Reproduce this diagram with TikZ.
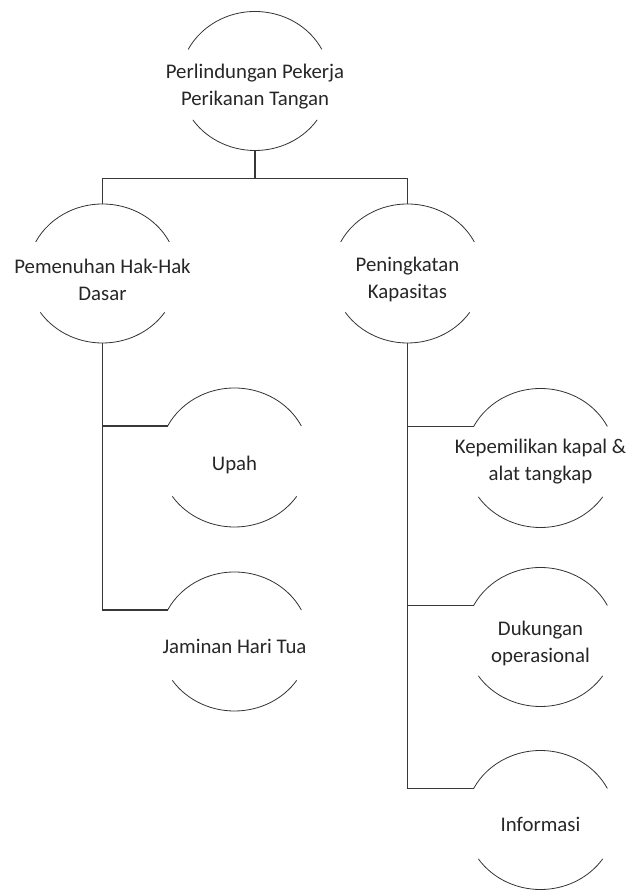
\documentclass[tikz,border=0pt]{standalone}
\usepackage{fontspec}
\setmainfont{Carlito}
\usetikzlibrary{shapes.geometric,calc}

\tikzset{
  arch/.style={ellipse, minimum width=150pt, minimum height=139pt, inner sep=0pt},
  archtext/.style={align=center, font=\fontsize{20.8}{27}\selectfont, text=black!85, inner sep=0pt},
  rim/.style={line width=0.8pt, draw=black!80},
  link/.style={line width=1.4pt, draw=black!78},
}

\begin{document}
\begin{tikzpicture}[x=1pt,y=1pt]
\useasboundingbox (0,0) rectangle (627,-893);
% shapes
\node[arch] (root) at (255,-81) {};
\node[arch] (hak) at (102.5,-273.5) {};
\node[arch] (kap) at (407.5,-273.5) {};
\node[arch] (upah) at (234.5,-457.5) {};
\node[arch] (jht) at (234.5,-641.5) {};
\node[arch] (milik) at (540.5,-458) {};
\node[arch] (dukung) at (540.5,-637) {};
\node[arch] (info) at (540.5,-820) {};
% arcs
\draw[rim] ($(root)+(27:75pt and 69.5pt)$) arc[start angle=27,end angle=153,x radius=75pt,y radius=69.5pt];
\draw[rim] ($(root)+(214:75pt and 69.5pt)$) arc[start angle=214,end angle=326,x radius=75pt,y radius=69.5pt];
\draw[rim] ($(hak)+(27:75pt and 69.5pt)$) arc[start angle=27,end angle=153,x radius=75pt,y radius=69.5pt];
\draw[rim] ($(hak)+(214:75pt and 69.5pt)$) arc[start angle=214,end angle=326,x radius=75pt,y radius=69.5pt];
\draw[rim] ($(kap)+(27:75pt and 69.5pt)$) arc[start angle=27,end angle=153,x radius=75pt,y radius=69.5pt];
\draw[rim] ($(kap)+(214:75pt and 69.5pt)$) arc[start angle=214,end angle=326,x radius=75pt,y radius=69.5pt];
\draw[rim] ($(upah)+(27:75pt and 69.5pt)$) arc[start angle=27,end angle=153,x radius=75pt,y radius=69.5pt];
\draw[rim] ($(upah)+(214:75pt and 69.5pt)$) arc[start angle=214,end angle=326,x radius=75pt,y radius=69.5pt];
\draw[rim] ($(jht)+(27:75pt and 69.5pt)$) arc[start angle=27,end angle=153,x radius=75pt,y radius=69.5pt];
\draw[rim] ($(jht)+(214:75pt and 69.5pt)$) arc[start angle=214,end angle=326,x radius=75pt,y radius=69.5pt];
\draw[rim] ($(milik)+(27:75pt and 69.5pt)$) arc[start angle=27,end angle=153,x radius=75pt,y radius=69.5pt];
\draw[rim] ($(milik)+(214:75pt and 69.5pt)$) arc[start angle=214,end angle=326,x radius=75pt,y radius=69.5pt];
\draw[rim] ($(dukung)+(27:75pt and 69.5pt)$) arc[start angle=27,end angle=153,x radius=75pt,y radius=69.5pt];
\draw[rim] ($(dukung)+(214:75pt and 69.5pt)$) arc[start angle=214,end angle=326,x radius=75pt,y radius=69.5pt];
\draw[rim] ($(info)+(27:75pt and 69.5pt)$) arc[start angle=27,end angle=153,x radius=75pt,y radius=69.5pt];
\draw[rim] ($(info)+(214:75pt and 69.5pt)$) arc[start angle=214,end angle=326,x radius=75pt,y radius=69.5pt];
% texts
\node[archtext] (root-t) at ($(root)+(0,-6)$) {Perlindungan Pekerja\\Perikanan Tangan};
\node[archtext] (hak-t) at ($(hak)+(0,-6)$) {Pemenuhan Hak-Hak\\Dasar};
\node[archtext] (kap-t) at ($(kap)+(0,-6)$) {Peningkatan\\Kapasitas};
\node[archtext] (upah-t) at ($(upah)+(0,-7)$) {Upah};
\node[archtext] (jht-t) at ($(jht)+(0,-5)$) {Jaminan Hari Tua};
\node[archtext] (milik-t) at ($(milik)+(0,-4)$) {Kepemilikan kapal \&\\alat tangkap};
\node[archtext] (dukung-t) at ($(dukung)+(0,-6)$) {Dukungan\\operasional};
\node[archtext] (info-t) at ($(info)+(0,-4)$) {Informasi};
% connectors
\draw[link] (root.south) -- ++(0,-28) coordinate (bar) -| (hak.north);
\draw[link] (bar) -| (kap.north);
\draw[link] (hak.south) |- ($(upah)+(153:75pt and 69.5pt)$);
\draw[link] (hak.south) |- ($(jht)+(153:75pt and 69.5pt)$);
\draw[link] (kap.south) |- ($(milik)+(153:75pt and 69.5pt)$);
\draw[link] (kap.south) |- ($(dukung)+(153:75pt and 69.5pt)$);
\draw[link] (kap.south) |- ($(info)+(153:75pt and 69.5pt)$);
\end{tikzpicture}
\end{document}
